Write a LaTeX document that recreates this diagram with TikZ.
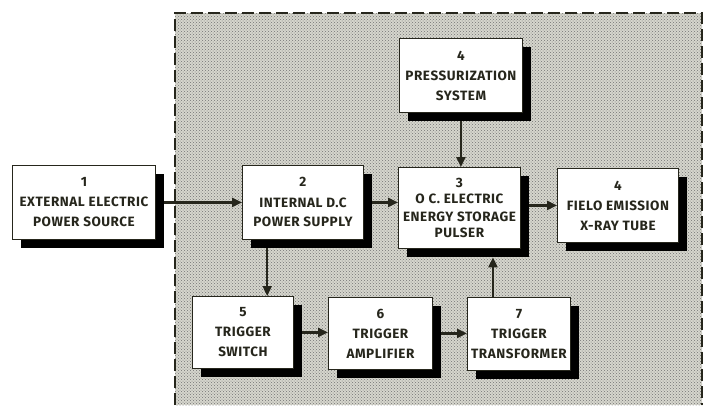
\documentclass[tikz,border=0pt]{standalone}
\usepackage{fontspec}
\setmainfont{Fira Sans}[LetterSpace=4]
\usetikzlibrary{patterns,arrows.meta,calc}
\definecolor{ink}{RGB}{38,38,28}
\definecolor{stip}{RGB}{214,214,205}
\begin{document}
\begin{tikzpicture}[x=1pt,y=-1pt,
  blk/.style={draw=ink, line width=0.9pt, fill=white, inner sep=0pt, align=center,
    text=ink, font=\fontsize{13.5}{20}\selectfont\bfseries, anchor=north west},
  shd/.style={fill=black, draw=none, inner sep=0pt, anchor=north west},
  arr/.style={draw=ink, line width=2.2pt, -{Triangle[length=10pt,width=9pt]}},
  frame/.style={draw=ink, line width=1.8pt, dash pattern=on 12pt off 5pt}]
\useasboundingbox (0,0) rectangle (706,405);
% shaded enclosure
\path[preaction={fill=stip}, pattern=crosshatch dots, pattern color=black!55]
  (175,13) rectangle (702,405);
\draw[frame] (175,405) -- (175,13) -- (702,13) -- (702,405);

% shadows
\node[shd, minimum width=143pt, minimum height=74pt] (s1) at (21,174) {};
\node[shd, minimum width=121pt, minimum height=74pt] (s2) at (251,174) {};
\node[shd, minimum width=123pt, minimum height=74pt] (sP) at (408,47) {};
\node[shd, minimum width=122pt, minimum height=81pt] (s3) at (407,176) {};
\node[shd, minimum width=121pt, minimum height=74pt] (s4) at (566,177) {};
\node[shd, minimum width=101pt, minimum height=72pt] (s5) at (201,305) {};
\node[shd, minimum width=104pt, minimum height=72pt] (s6) at (337,306) {};
\node[shd, minimum width=103pt, minimum height=73pt] (s7) at (476,306) {};

% boxes
\node[blk, minimum width=143pt, minimum height=74pt] (b1) at (12,165)
  {1\\EXTERNAL ELECTRIC\\POWER SOURCE};
\node[blk, minimum width=121pt, minimum height=74pt] (b2) at (242,165)
  {2\\INTERNAL D.C\\POWER SUPPLY};
\node[blk, minimum width=123pt, minimum height=74pt] (bP) at (399,38)
  {4\\PRESSURIZATION\\SYSTEM};
\node[blk, minimum width=122pt, minimum height=81pt, font=\fontsize{13.5}{17}\selectfont\bfseries] (b3) at (398,167)
  {3\\O C. ELECTRIC\\ENERGY STORAGE\\PULSER};
\node[blk, minimum width=121pt, minimum height=74pt] (b4) at (557,168)
  {4\\FIELO EMISSION\\X-RAY TUBE};
\node[blk, minimum width=101pt, minimum height=72pt] (b5) at (192,296)
  {5\\TRIGGER\\SWITCH};
\node[blk, minimum width=104pt, minimum height=72pt] (b6) at (328,297)
  {6\\TRIGGER\\AMPLIFIER};
\node[blk, minimum width=103pt, minimum height=73pt] (b7) at (467,297)
  {7\\TRIGGER\\TRANSFORMER};

% connectors
\draw[arr] (s1.east |- b1.east) -- (b1.east -| b2.west);
\draw[arr] (s2.east |- b2.east) -- (b2.east -| b3.west);
\draw[arr] (s3.east |- b4.west) -- (b4.west);
\draw[arr] (sP.south -| bP.south) -- (bP.south |- b3.north);
\coordinate (c25) at ($(b2.south west)!0.207!(b2.south east)$);
\draw[arr] (c25 |- s2.south) -- (c25 |- b5.north);
\coordinate (c73) at ($(b7.north west)!0.25!(b7.north east)$);
\draw[arr] (c73) -- (c73 |- s3.south);
\draw[arr] (s5.east |- b5.east) -- (b5.east -| b6.west);
\draw[arr] (s6.east |- b6.east) -- (b6.east -| b7.west);
\end{tikzpicture}
\end{document}
